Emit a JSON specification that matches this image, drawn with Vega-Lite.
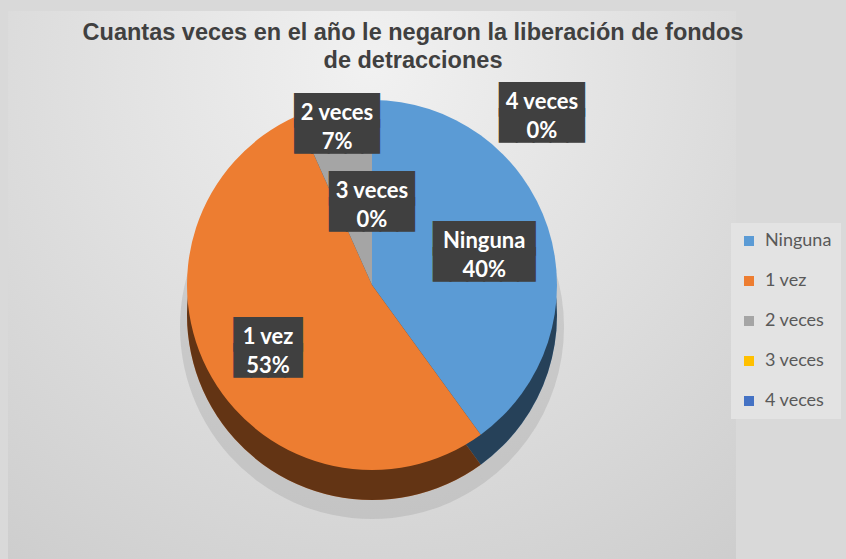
{
  "$schema": "https://vega.github.io/schema/vega-lite/v6.json",
  "width": 728,
  "height": 548,
  "autosize": {"type": "none"},
  "padding": {"left": 8, "top": 11, "right": 110, "bottom": 0},
  "background": "#d9d9d9",
  "view": {
    "stroke": null,
    "fill": {
      "gradient": "radial",
      "x1": 0.5, "y1": 0.2, "r1": 0,
      "x2": 0.5, "y2": 0.2, "r2": 0.9,
      "stops": [
        {"offset": 0, "color": "#f1f1f1"},
        {"offset": 1, "color": "#cbcbcb"}
      ]
    }
  },
  "title": {
    "text": ["Cuantas veces en el año le negaron la liberación de fondos", "de detracciones"],
    "font": "Liberation Sans",
    "fontSize": 23.5,
    "fontWeight": "bold",
    "color": "#404040",
    "lineHeight": 28,
    "anchor": "middle",
    "frame": "group",
    "offset": -61,
    "dx": 41
  },
  "data": {
    "values": [
      {"categoria": "Ninguna", "valor": 0.4, "orden": 1},
      {"categoria": "1 vez", "valor": 0.5333, "orden": 2},
      {"categoria": "2 veces", "valor": 0.0667, "orden": 3},
      {"categoria": "3 veces", "valor": 0, "orden": 4},
      {"categoria": "4 veces", "valor": 0, "orden": 5}
    ]
  },
  "encoding": {
    "theta": {"field": "valor", "type": "quantitative", "stack": true},
    "order": {"field": "orden", "type": "quantitative"}
  },
  "layer": [
    {
      "mark": {"type": "arc", "outerRadius": 192, "yOffset": 42, "fill": "#8a8a8a", "opacity": 0.25},
      "encoding": {}
    },
    {
      "mark": {"type": "arc", "outerRadius": 185, "yOffset": 30},
      "encoding": {
        "color": {"field": "categoria", "type": "nominal",
          "scale": {"domain": ["Ninguna", "1 vez", "2 veces", "3 veces", "4 veces"],
                    "range": ["#5b9bd5", "#ed7d31", "#a5a5a5", "#ffc000", "#4472c4"]},
          "legend": {
            "title": null,
            "orient": "none",
            "legendX": 723,
            "legendY": 212,
            "padding": 9,
            "fillColor": "#e3e3e3",
            "symbolType": "square",
            "symbolSize": 100,
            "symbolStrokeWidth": 0,
            "labelFont": "Lato",
            "labelFontSize": 18,
            "labelColor": "#595959",
            "labelOffset": 7,
            "rowPadding": 22
          }
        }
      }
    },
    {
      "mark": {"type": "arc", "outerRadius": 185, "yOffset": 30, "fill": "black", "fillOpacity": 0.58},
      "encoding": {}
    },
    {
      "mark": {"type": "arc", "outerRadius": 185},
      "encoding": {
        "color": {"field": "categoria", "type": "nominal"}
      }
    },
    {
      "mark": {
        "type": "text",
        "font": "DejaVu Sans Mono",
        "fontSize": 28,
        "lineHeight": 26,
        "color": "#404040",
        "stroke": "#404040",
        "strokeWidth": 1.5,
        "baseline": "middle",
        "align": "center",
        "dy": -9,
        "radius": {"expr": "datum.categoria === 'Ninguna' ? 118 : datum.categoria === '1 vez' ? 120 : datum.categoria === '2 veces' ? 168 : datum.categoria === '3 veces' ? 86 : 175"},
        "dx": {"expr": "datum.categoria === '4 veces' ? 170 : 0"}
      },
      "encoding": {
        "detail": {"field": "categoria"},
        "text": {
          "condition": [
            {"test": "datum.categoria === '1 vez'", "value": ["████", "████"]},
            {"test": "datum.categoria === 'Ninguna'", "value": ["██████", "██████"]}
          ],
          "value": ["█████", "█████"]
        }
      }
    },
    {
      "mark": {
        "type": "text",
        "font": "Lato",
        "fontSize": 22,
        "fontWeight": "bold",
        "color": "white",
        "baseline": "middle",
        "align": "center",
        "dy": -8,
        "radius": {"expr": "datum.categoria === 'Ninguna' ? 118 : datum.categoria === '1 vez' ? 120 : datum.categoria === '2 veces' ? 168 : datum.categoria === '3 veces' ? 86 : 175"},
        "dx": {"expr": "datum.categoria === '4 veces' ? 170 : 0"}
      },
      "encoding": {
        "detail": {"field": "categoria"},
        "text": {"field": "categoria"}
      }
    },
    {
      "mark": {
        "type": "text",
        "font": "Lato",
        "fontSize": 22,
        "fontWeight": "bold",
        "color": "white",
        "baseline": "middle",
        "align": "center",
        "dy": 21,
        "radius": {"expr": "datum.categoria === 'Ninguna' ? 118 : datum.categoria === '1 vez' ? 120 : datum.categoria === '2 veces' ? 168 : datum.categoria === '3 veces' ? 86 : 175"},
        "dx": {"expr": "datum.categoria === '4 veces' ? 170 : 0"}
      },
      "encoding": {
        "detail": {"field": "categoria"},
        "text": {"field": "valor", "type": "quantitative", "format": ".0%"}
      }
    }
  ]
}
